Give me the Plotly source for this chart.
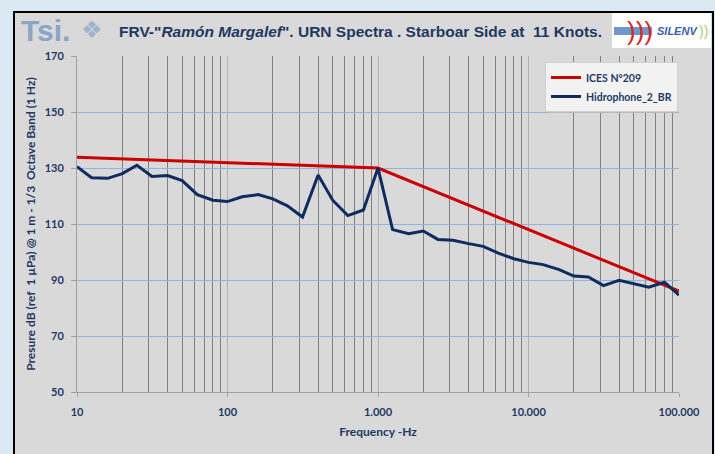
import plotly.graph_objects as go

# 1/3 octave band centre frequencies (Hz)
freq_hz = [10, 12.5, 16, 20, 25, 31.5, 40, 50, 63, 80,
           100, 125, 160, 200, 250, 315, 400, 500, 630, 800,
           1000, 1250, 1600, 2000, 2500, 3150, 4000, 5000, 6300, 8000,
           10000, 12500, 16000, 20000, 25000, 31500, 40000, 50000, 63000, 80000,
           100000]

# measured URN spectrum, hydrophone 2 (dB re 1 uPa @ 1 m)
hydrophone_db = [130.5, 126.5, 126.3, 128.0, 131.0, 127.0, 127.3, 125.5, 120.5, 118.5,
                 118.0, 119.7, 120.5, 119.0, 116.5, 112.5, 127.5, 118.5, 113.0, 115.0,
                 130.0, 108.0, 106.5, 107.5, 104.5, 104.2, 103.0, 102.0, 99.6, 97.6,
                 96.3, 95.5, 93.7, 91.4, 91.1, 88.0, 89.9, 88.6, 87.4, 89.2,
                 84.6]

# ICES CRR 209 limit curve (break point at 1 kHz)
ices_freq = [10, 1000, 100000]
ices_db = [133.8, 130.0, 86.0]

x_tickvals = [10, 100, 1000, 10000, 100000]
x_ticktext = ["10", "100", "1.000", "10.000", "100.000"]

NAVY = "#1f3864"
AXIS_FONT = "Lato"

# plot area in pixels: x 77..679, y 56..392 on a 715x454 page
L, R, T, B = 77, 679, 56, 392


def px(p):
    return (p - L) / (R - L)


def py(p):
    return (B - p) / (B - T)


fig = go.Figure()

fig.add_trace(go.Scatter(
    x=ices_freq, y=ices_db, mode="lines", name="ICES Nº209",
    line=dict(color="#cc0000", width=3),
))
fig.add_trace(go.Scatter(
    x=freq_hz, y=hydrophone_db, mode="lines", name="Hidrophone_2_BR",
    line=dict(color="#0f2b60", width=3),
))

shapes = [
    # chart frame
    dict(type="rect", xref="paper", yref="paper", layer="below",
         x0=px(14), x1=px(713), y0=py(12), y1=py(470),
         fillcolor="#d9d9d9", line=dict(color="black", width=2)),
    # legend shadow
    dict(type="rect", xref="paper", yref="paper",
         x0=px(548), x1=px(675), y0=py(65), y1=py(113),
         fillcolor="#b8b8b8", line=dict(width=0)),
    # SILENV logo box
    dict(type="rect", xref="paper", yref="paper",
         x0=px(612), x1=px(711), y0=py(13), y1=py(48),
         fillcolor="white", line=dict(width=0)),
    dict(type="rect", xref="paper", yref="paper",
         x0=px(614), x1=px(652), y0=py(27), y1=py(35),
         fillcolor="#6f97c8", line=dict(width=0)),
]

annotations = [
    dict(x=px(117), y=py(31), xref="paper", yref="paper", xanchor="left", yanchor="middle",
         showarrow=False,
         text='<b>FRV-"<i>Ramón Margalef</i>". URN Spectra . Starboar Side at \u00a011 Knots.</b>',
         font=dict(family="Liberation Sans", size=15.5, color=NAVY)),
    dict(x=px(19), y=py(30), xref="paper", yref="paper", xanchor="left", yanchor="middle",
         showarrow=False, text="<b>Tsi.</b>",
         font=dict(family="Liberation Sans", size=30, color="#8aa5c8")),
    dict(x=px(79), y=py(30), xref="paper", yref="paper", xanchor="left", yanchor="middle",
         showarrow=False, text="❖",
         font=dict(family="DejaVu Sans", size=24, color="#9db3cf")),
    dict(x=px(640), y=py(31), xref="paper", yref="paper", xanchor="center", yanchor="middle",
         showarrow=False, text=")))",
         font=dict(family="Liberation Sans", size=26, color="#d42a2a")),
    dict(x=px(655), y=py(31), xref="paper", yref="paper", xanchor="left", yanchor="middle",
         showarrow=False, text="<b><i>SILENV</i></b>",
         font=dict(family="Liberation Sans", size=11, color="#3a62a8")),
    dict(x=px(697), y=py(31), xref="paper", yref="paper", xanchor="left", yanchor="middle",
         showarrow=False, text="))",
         font=dict(family="Liberation Sans", size=14, color="#a6d06a")),
]

fig.update_layout(
    width=715, height=454,
    margin=dict(l=L, r=715 - R, t=T, b=454 - B),
    paper_bgcolor="#dbe9f2",
    plot_bgcolor="#f2f2f2",
    separators=",.",
    shapes=shapes,
    annotations=annotations,
    showlegend=True,
    legend=dict(
        x=px(545), y=py(62), xanchor="left", yanchor="top",
        bgcolor="#f2f2f2", bordercolor="#d0d0d0", borderwidth=1,
        font=dict(family=AXIS_FONT, size=10.5, color=NAVY, weight="bold"),
        itemwidth=30, tracegroupgap=4,
    ),
    font=dict(family=AXIS_FONT, color=NAVY),
)

fig.update_xaxes(
    type="log", range=[1, 5],
    tickmode="array", tickvals=x_tickvals, ticktext=x_ticktext,
    tickfont=dict(family=AXIS_FONT, size=11, color=NAVY, weight="bold"),
    ticks="outside", ticklen=4, tickcolor="#a0a0a0", ticklabelstandoff=6,
    showline=True, linecolor="#a0a0a0", linewidth=1,
    showgrid=True, gridcolor="#b0b0b0", gridwidth=1,
    minor=dict(dtick="D1", showgrid=True, gridcolor="#808080", gridwidth=1, ticks=""),
    zeroline=False,
    title=dict(text="<b>Frequency -Hz</b>", font=dict(family=AXIS_FONT, size=12, color=NAVY),
               standoff=10),
)

fig.update_yaxes(
    range=[50, 170], tickmode="linear", tick0=50, dtick=20,
    tickfont=dict(family=AXIS_FONT, size=11, color=NAVY, weight="bold"),
    ticks="outside", ticklen=5, tickcolor="#a0a0a0", ticklabelstandoff=5,
    showline=True, linecolor="#a0a0a0", linewidth=1,
    showgrid=True, gridcolor="#8eb4e3", gridwidth=1,
    zeroline=False,
    title=dict(text="<b>Presure dB (ref \u00a01 µPa) @ 1 m - 1/3 \u00a0Octave Band (1 Hz)</b>",
               font=dict(family=AXIS_FONT, size=12, color=NAVY), standoff=6),
)

# drop the default 8px page margin so the figure sits at the window's corner
fig.write_html("out.html", config={"displayModeBar": False},
               post_script="document.body.style.margin='0';")
